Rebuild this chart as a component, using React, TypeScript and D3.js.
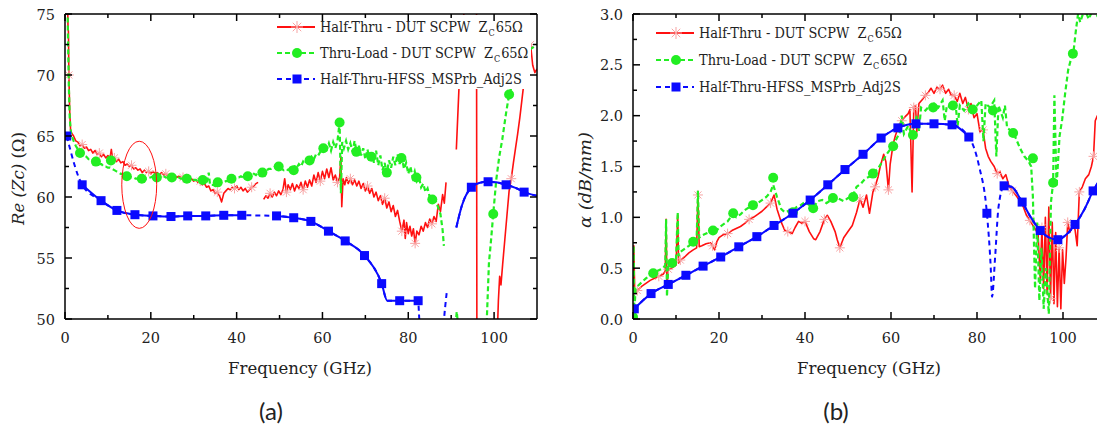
import React from "react";
import * as d3 from "d3";

type P = [number, number];

// ---------- axis ticks ----------
const freqTicks = [0, 20, 40, 60, 80, 100];
const freqMinor = [10, 30, 50, 70, 90];
const zTicks = [50, 55, 60, 65, 70, 75];
const zMinor = [52.5, 57.5, 62.5, 67.5, 72.5];
const aTicks = [0, 0.5, 1.0, 1.5, 2.0, 2.5, 3.0];
const aMinor = [0.25, 0.75, 1.25, 1.75, 2.25, 2.75];

// ---------- legend ----------
const legendMain = ["Half-Thru - DUT SCPW  Z", "Thru-Load - DUT SCPW  Z", "Half-Thru-HFSS_MSPrb_Adj2S"];
const legendSub = ["C", "C", ""];
const legendTail = ["65Ω", "65Ω", ""];

// ---------- (a) Re(Zc) ----------
const halfThruZ: P[] = [
  [0.5, 78], [0.7, 74], [0.8, 73.5], [0.9, 70], [1.1, 67], [1.3, 65.5], [1.6, 65.2], [2, 65.0], [2.5, 64.6], [3, 64.5],
  [3.5, 64.2], [4, 64.3], [4.5, 64.0], [5, 64.1], [5.5, 63.8], [6, 63.9], [6.5, 63.6], [7, 63.8], [7.5, 63.5], [8, 63.6],
  [8.5, 63.3], [9, 63.5], [9.5, 63.2], [10, 63.4], [10.5, 63.2], [10.8, 63.9], [11.1, 63.1], [11.5, 63.2], [12, 62.9], [12.5, 63.1],
  [13, 62.8], [13.5, 62.9], [14, 62.6], [14.5, 62.7], [15, 62.5], [15.5, 62.6], [16, 62.3], [16.5, 62.4], [17, 62.2], [17.5, 62.3],
  [18, 62.0], [18.5, 62.2], [19, 62.0], [19.5, 62.1], [20, 61.9], [20.5, 62.1], [21, 61.9], [21.5, 62.0], [22, 61.8], [22.5, 62.0],
  [23, 61.8], [23.5, 61.9], [24, 61.7], [24.5, 61.9], [25, 61.7], [25.5, 61.8], [26, 61.6], [26.5, 61.7], [27, 61.6], [27.5, 61.6],
  [28, 61.5], [28.5, 61.6], [29, 61.4], [29.5, 61.5], [30, 61.3], [30.5, 61.4], [31, 61.2], [31.5, 61.3], [32, 61.0], [32.5, 61.1],
  [33, 60.8], [33.5, 60.9], [34, 60.5], [34.5, 60.6], [35, 60.3], [35.5, 60.4], [36, 60.1], [36.5, 59.6], [37, 60.3], [37.5, 60.5],
  [38, 60.7], [38.5, 60.6], [39, 60.8], [39.5, 60.7], [40, 60.9], [40.5, 60.6], [41, 60.8], [41.5, 60.5], [42, 60.7], [42.5, 60.4],
  [43, 60.6], [43.5, 60.8], [44, 60.9], [44.5, 61.1], [45, 61.2], [45.5, NaN], [46.3, 59.8], [46.8, 60.1], [47.3, 59.9], [47.8, 60.3],
  [48.3, 60.0], [48.8, 60.4], [49.3, 60.1], [49.8, 60.5], [50.3, 60.2], [50.8, 60.6], [51.2, 61.5], [51.6, 60.4], [52, 61.0], [52.5, 60.6],
  [53, 61.1], [53.5, 60.5], [54, 61.0], [54.5, 60.7], [55, 61.2], [55.5, 60.6], [56, 61.3], [56.5, 60.8], [57, 61.4], [57.5, 60.9],
  [58, 61.8], [58.5, 61.2], [59, 62.0], [59.5, 61.3], [60, 62.1], [60.5, 61.5], [61, 62.3], [61.5, 61.6], [62, 62.4], [62.5, 61.4],
  [63, 61.8], [63.5, 61.2], [64, 61.6], [64.3, 63.3], [64.5, 59.2], [64.8, 61.5], [65.2, 61.0], [65.6, 61.6], [66, 61.1], [66.5, 61.5],
  [67, 61.0], [67.5, 61.4], [68, 60.9], [68.5, 61.3], [69, 60.7], [69.5, 61.1], [70, 60.5], [70.5, 60.9], [71, 60.3], [71.5, 60.7],
  [72, 60.0], [72.5, 60.4], [73, 59.7], [73.5, 60.1], [74, 59.4], [74.5, 59.9], [75, 59.1], [75.5, 59.6], [76, 58.8], [76.5, 59.3],
  [77, 58.4], [77.5, 58.9], [78, 58.0], [78.5, 57.2], [79, 58.1], [79.3, 56.6], [79.6, 57.9], [80, 57.0], [80.4, 57.6], [80.8, 56.8],
  [81.2, 57.4], [81.6, 56.2], [82, 57.2], [82.5, 56.9], [83, 57.6], [83.5, 57.2], [84, 57.9], [84.5, 57.5], [85, 58.2], [85.5, 57.8],
  [86, 58.4], [86.5, 58.0], [87, 59.4], [87.5, 58.8], [88, 60.2], [88.4, 59.5], [88.8, 61.2], [89, NaN], [91.2, 63.9], [91.8, 68.8],
  [92.5, 72.5], [93.5, 78], [95.9, 78], [96.0, 45], [96.1, NaN], [100.4, 45], [101, 51.5], [101.3, 53.5], [101.6, 52.8], [102, 54.5],
  [102.5, 56.5], [103, 58.5], [103.5, 60.5], [104, 61.5], [104.5, 62.8], [105, 64], [105.5, 65.2], [106, 66.5], [106.5, 68], [107, 69.5],
  [107.5, 71], [108.5, 72.5], [109, 70.8], [109.5, 70.2], [110, 70.5],
];

const thruLoadZ: P[] = [
  [0.5, 78], [0.7, 73], [0.9, 69], [1.1, 66.5], [1.4, 65.2], [2, 64.6], [2.5, 64.2], [3, 63.9], [3.5, 63.7], [4, 63.5],
  [4.5, 63.4], [5, 63.3], [5.5, 63.1], [6, 63.1], [6.5, 62.9], [7, 62.9], [7.5, 62.8], [8, 62.7], [8.5, 62.7], [9, 62.5],
  [9.5, 62.5], [10, 62.4], [10.5, 62.4], [11, 62.3], [11.5, 62.2], [12, 62.1], [12.5, 62.0], [13, 61.9], [13.5, 61.9], [14, 61.8],
  [14.5, 61.7], [15, 61.7], [15.5, 61.6], [16, 61.6], [16.5, 61.5], [17, 61.5], [17.5, 61.5], [18, 61.5], [18.5, 61.6], [19, 61.5],
  [19.5, 61.6], [20, 61.6], [20.5, 61.7], [21, 61.6], [21.5, 61.7], [22, 61.7], [22.5, 61.6], [23, 61.7], [23.5, 61.6], [24, 61.6],
  [24.5, 61.7], [25, 61.6], [25.5, 61.6], [26, 61.5], [26.5, 61.6], [27, 61.5], [27.5, 61.5], [28, 61.5], [28.5, 61.5], [29, 61.4],
  [29.5, 61.5], [30, 61.4], [30.5, 61.4], [31, 61.3], [31.5, 61.3], [32, 61.2], [32.5, 61.2], [33, 61.1], [33.5, 62.0], [33.8, 61.0],
  [34.5, 61.0], [35, 60.9], [35.5, 61.1], [36, 61.0], [36.5, 61.2], [37, 61.2], [37.5, 61.3], [38, 61.3], [38.5, 61.5], [39, 61.4],
  [39.5, 61.5], [40, 61.6], [40.5, 61.6], [41, 61.7], [41.5, 61.6], [42, 61.7], [42.5, 61.8], [43, 61.8], [43.5, 61.8], [44, 61.9],
  [44.5, 61.8], [45, 62.0], [45.5, 62.0], [46, 62.1], [46.5, 62.1], [47, 62.2], [47.5, 62.3], [48, 62.3], [48.5, 62.4], [49, 62.5],
  [49.5, 62.5], [50, 62.6], [50.5, 62.3], [51, 62.2], [51.5, 62.3], [52, 62.2], [52.5, 62.4], [53, 62.2], [53.5, 62.5], [54, 62.4],
  [54.5, 62.7], [55, 62.5], [55.5, 62.9], [56, 62.7], [56.5, 63.1], [57, 62.9], [57.5, 63.3], [58, 63.1], [58.5, 63.5], [59, 63.4],
  [59.5, 63.7], [60, 63.6], [60.5, 64.2], [61, 63.9], [61.5, 64.4], [62, 63.8], [62.5, 64.5], [63, 64.0], [63.5, 64.6], [64, 66.1],
  [64.3, 60.3], [64.6, 64.5], [65, 64.0], [65.5, 64.6], [66, 63.9], [66.5, 64.4], [67, 63.7], [67.5, 64.6], [68, 63.6], [68.5, 64.2],
  [69, 63.4], [69.5, 64.0], [70, 63.1], [70.5, 63.9], [71, 63.0], [71.5, 63.6], [72, 62.8], [72.5, 63.8], [73, 62.6], [73.5, 63.4],
  [74, 62.2], [74.5, 62.8], [75, 61.9], [75.5, 63.0], [76, 62.4], [76.5, 63.3], [77, 62.6], [77.5, 63.5], [78, 62.7], [78.5, 63.3],
  [79, 62.3], [79.5, 62.8], [80, 61.9], [80.5, 62.5], [81, 61.6], [81.5, 62.1], [82, 61.3], [82.5, 61.6], [83, 60.8], [83.5, 61.1],
  [84, 60.4], [84.5, 60.7], [85, 60.0], [85.5, 60.0], [86, 59.6], [86.5, 59.6], [87, 59.1], [87.5, 58.6], [88, 57.3], [88.3, 56.0],
  [88.5, NaN], [91, 49.5], [91.3, 50.6], [91.6, 49.5], [91.7, NaN], [98.2, 49], [98.8, 54.6], [99.3, 56.5], [99.8, 58.6], [100.5, 61.4],
  [101.2, 63.3], [101.9, 64.7], [102.8, 66.9], [103.5, 68.4], [104.5, 69.5], [106, 71], [108, 72], [110, 72.5],
];

const thruLoadZMarkers: P[] = [
  [3.5, 63.6], [7.2, 62.9], [10.7, 63.0], [14.4, 61.7], [17.9, 61.5], [21.4, 61.6], [24.9, 61.6], [28.4, 61.5], [32.1, 61.4],
  [35.6, 61.2], [38.8, 61.5], [42.6, 61.7], [46, 62.0], [49.8, 62.5], [53.3, 62.2], [57, 63.0], [60.2, 64.0], [64, 66.1],
  [67.9, 63.7], [71.4, 63.3], [75, 62.0], [78.4, 63.2], [81.9, 61.6], [85.6, 59.8], [99.8, 58.6], [103.5, 68.4],
];

const hfssZMarkers: P[] = [
  [0.4, 65.0], [4, 61.0], [8.4, 59.7], [12.1, 58.9], [16.3, 58.55], [20.5, 58.45], [24.7, 58.4], [28.6, 58.45], [32.8, 58.45],
  [37, 58.5], [41.2, 58.5], [49.3, 58.45], [53.3, 58.3], [57.3, 58.0], [61.4, 57.2], [65.3, 56.4], [69.8, 55.2], [73.8, 52.9],
  [78, 51.5], [82.3, 51.5], [94.7, 60.8], [98.6, 61.25], [102.8, 61.0], [107, 60.4],
];
const hfssZExtra: P[] = [
  [75.1, 51.5], [82.5, 50.4], [82.7, 49.0], [83, NaN], [88.2, 49.5], [88.6, 51.0], [89.0, 52.3], [89.5, NaN],
  [91.2, 57.5], [92.5, 59.3], [96.5, 61.15], [100.5, 61.2], [105, 60.75], [110, 60.1],
];
const hfssZSolid: P[] = [[4, 41.2], [49.3, 82.3], [91, 110]];

// ---------- (b) alpha ----------
const halfThruA: P[] = [
  [0, 0.2], [0.2, 0.72], [0.4, 0.25], [1, 0.28], [2, 0.32], [3, 0.35], [4, 0.38], [5, 0.4], [6, 0.42], [7, 0.44],
  [7.5, 0.47], [7.7, 0.98], [7.9, 0.3], [8.2, 0.49], [9, 0.5], [10, 0.53], [10.4, 1.02], [10.6, 0.55], [11, 0.58], [12, 0.61],
  [13, 0.65], [14, 0.68], [14.8, 0.7], [15.1, 1.22], [15.4, 0.71], [16, 0.72], [17, 0.74], [18, 0.75], [18.5, 0.72], [19, 0.68],
  [19.5, 0.76], [20, 0.8], [21, 0.83], [22, 0.84], [23, 0.87], [24, 0.89], [25, 0.91], [26, 0.94], [27, 0.98], [28, 1.0],
  [29, 1.03], [30, 1.06], [31, 1.1], [32, 1.14], [32.8, 1.22], [33.5, 1.08], [34.5, 0.95], [35.3, 0.87], [36, 0.86], [37, 0.84],
  [37.7, 0.9], [38.5, 0.96], [39.3, 0.94], [40, 0.96], [41, 0.86], [42, 0.79], [42.5, 0.78], [43.5, 0.86], [44.5, 0.98], [45.2, 1.02],
  [46, 0.96], [47, 0.86], [47.5, 0.78], [48.1, 0.7], [49, 0.8], [50, 0.86], [51, 0.92], [52, 1.05], [52.8, 1.18], [53.5, 1.1],
  [54.3, 1.22], [55, 1.04], [55.8, 1.25], [56.3, 1.3], [57, 1.4], [57.5, 1.5], [58.3, 1.62], [58.8, 1.55], [59.4, 1.27], [59.8, 1.52],
  [60.5, 1.72], [61, 1.8], [61.8, 1.9], [62.5, 1.95], [63.3, 1.99], [64, 2.02], [64.4, 2.06], [64.9, 1.25], [65.3, 2.08], [65.7, 2.1],
  [66, 1.84], [66.5, 2.12], [67.3, 2.16], [68, 2.2], [68.7, 2.23], [69.3, 2.27], [70, 2.22], [70.7, 2.28], [71.4, 2.26], [72, 2.3],
  [72.7, 2.22], [73.4, 2.26], [74, 2.2], [74.7, 2.2], [75.4, 2.14], [76, 2.22], [76.7, 2.12], [77.3, 2.18], [78, 2.06], [78.6, 2.12],
  [79.3, 1.98], [80, 2.02], [80.7, 1.84], [81.4, 1.86], [82, 1.68], [82.6, 1.6], [83.2, 1.55], [84, 1.5], [84.7, 1.43], [85.3, 1.45],
  [86, 1.38], [86.7, 1.42], [87.5, 1.3], [88.3, 1.26], [89, 1.22], [90, 1.16], [90.8, 1.1], [91.5, 1.02], [92.3, 0.97], [93, 0.92],
  [93.6, 0.88], [94.2, 0.84], [94.7, 0.4], [95.1, 0.9], [95.5, 0.3], [95.9, 1.0], [96.3, 0.25], [96.7, 1.1], [97.1, 0.2], [97.5, 0.95],
  [97.9, 0.15], [98.3, 0.85], [98.7, 0.12], [99.1, 0.7], [99.5, 0.1], [99.9, 0.68], [100.3, 0.35], [100.7, 0.6], [101.1, 0.95], [101.6, 0.85],
  [102.2, 0.92], [102.8, 0.88], [103.3, 0.72], [103.8, 1.25], [104.5, 1.3], [105.2, 1.38], [106, 1.42], [106.6, 1.5], [107.1, 1.6], [107.5, 1.95],
  [108, 2.0], [108.5, 1.9], [109, 2.0], [110, 2.05],
];

const thruLoadA: P[] = [
  [0, 0.02], [0.15, 0.72], [0.3, 0.05], [0.6, 0.3], [1, 0.32], [2, 0.36], [3, 0.4], [4, 0.43], [5, 0.46], [6, 0.48],
  [7, 0.5], [7.5, 0.53], [7.7, 0.98], [7.9, 0.22], [8.2, 0.54], [9, 0.55], [10, 0.58], [10.4, 1.05], [10.6, 0.62], [11, 0.66],
  [12, 0.69], [13, 0.72], [14, 0.76], [14.8, 0.78], [15.1, 1.26], [15.4, 0.8], [16, 0.82], [17, 0.84], [18, 0.86], [18.6, 0.87],
  [19, 0.84], [20, 0.9], [21, 0.93], [22, 0.96], [23, 1.02], [24, 1.0], [25, 1.03], [26, 1.07], [27, 1.1], [28, 1.12],
  [29, 1.14], [30, 1.17], [31, 1.2], [32, 1.25], [32.6, 1.32], [33.5, 1.2], [34.5, 1.08], [35.3, 1.05], [36, 1.06], [37, 1.05],
  [38, 1.1], [39, 1.12], [40, 1.15], [41, 1.12], [42, 1.1], [43, 1.16], [44, 1.17], [45, 1.14], [46, 1.17], [47, 1.2],
  [48, 1.18], [49, 1.16], [50, 1.19], [51, 1.2], [52, 1.3], [53, 1.33], [54, 1.38], [55, 1.4], [56, 1.44], [57, 1.48],
  [58, 1.55], [59, 1.62], [60, 1.68], [61, 1.75], [62, 1.83], [62.5, 2.0], [63, 1.82], [64, 1.9], [65, 1.8], [66, 2.0],
  [66.5, 1.85], [67, 2.08], [68, 2.05], [69, 2.1], [70, 2.12], [71, 2.08], [72, 2.15], [72.5, 1.95], [73, 2.1], [74, 2.08],
  [75, 2.12], [75.5, 1.9], [76, 2.1], [77, 2.05], [78, 2.12], [79, 2.06], [80, 2.1], [81, 2.15], [81.5, 1.75], [82, 2.12],
  [83, 2.08], [84, 2.15], [84.5, 1.6], [85, 2.1], [86, 1.98], [86.5, 2.1], [87, 1.88], [88, 1.85], [89, 1.78], [90, 1.68],
  [91, 1.6], [92, 1.55], [92.6, 1.5], [93, 1.2], [93.5, 0.3], [94, 0.95], [94.5, 0.18], [95, 0.7], [95.5, 0.1], [96, 0.5],
  [96.7, 0.05], [97.2, 1.15], [97.7, 1.34], [98, 2.2], [98.5, 1.3], [99.2, 1.8], [99.8, 1.96], [100.5, 2.22], [101.2, 2.45], [102, 2.58],
  [102.5, 2.65], [103, 2.84], [103.5, 3.0], [104, 2.92], [105, 3.05], [106, 2.95], [107, 3.05], [108, 2.98], [110, 3.05],
];

const thruLoadAMarkers: P[] = [
  [0, 0.02], [4.7, 0.45], [9.1, 0.55], [14, 0.76], [18.6, 0.87], [23.3, 1.04], [27.9, 1.12], [32.6, 1.39], [37.2, 1.05],
  [41.9, 1.09], [46.5, 1.19], [51.2, 1.2], [55.8, 1.43], [60.5, 1.7], [65.1, 1.81], [69.8, 2.08], [74.4, 2.1], [79, 2.06],
  [83.7, 2.05], [88.4, 1.83], [93, 1.58], [97.7, 1.34], [102.3, 2.61],
];

const hfssAMarkers: P[] = [
  [0.3, 0.1], [4.2, 0.25], [8.2, 0.34], [12.3, 0.43], [16.3, 0.52], [20.4, 0.61], [24.6, 0.71], [28.8, 0.81], [32.8, 0.92],
  [37.2, 1.04], [41.2, 1.17], [45.3, 1.32], [49.3, 1.47], [53.5, 1.62], [57.7, 1.78], [61.6, 1.88], [65.8, 1.92], [70, 1.92],
  [74.2, 1.91], [78.1, 1.79], [82.3, 1.04], [86.3, 1.31], [90.5, 1.15], [94.7, 0.87], [98.8, 0.78], [102.8, 0.93], [107, 1.26],
];
const hfssAExtra: P[] = [
  [80.5, 1.5], [83.2, 0.5], [83.5, 0.22], [84.2, 0.6], [85, 1.1], [88, 1.3], [92.5, 1.0], [96.8, 0.8], [100.8, 0.83],
  [105, 1.08], [110, 1.45],
];
const hfssASolid: P[] = [[0, 78.1], [86.3, 110]];

// ---------- annotation ----------
const ellipseA = { f: 17.3, v: 61.0, rf: 4.07, rv: 3.57 };

const RED = "#ff1010";
const GREEN = "#22ee22";
const BLUE = "#0a0aff";
const STAR = "#f7a3a3";
const SERIF = "'DejaVu Serif', serif";

const merge = (a: P[], b: P[]) => [...a, ...b].sort((p, q) => p[0] - q[0]);

const starPath = (r: number) => {
  const d = r * 0.707;
  return `M${-r},0L${r},0M0,${-r}L0,${r}M${-d},${-d}L${d},${d}M${-d},${d}L${d},${-d}`;
};

type Scale = d3.ScaleLinear<number, number>;

function Frame({ x, y, yTicks, yMinor, yFmt, clipRight }: { x: Scale; y: Scale; yTicks: number[]; yMinor: number[]; yFmt: (v: number) => string; clipRight: number }) {
  const [x0, x1] = x.range();
  const [y1, y0] = y.range();
  const xr = Math.min(x1, clipRight);
  const M = 7, m = 4;
  const ts = { fontFamily: SERIF, fontSize: 14.5 };
  return (
    <g stroke="#000" strokeWidth={1.5}>
      <line x1={x0} x2={xr} y1={y1} y2={y1} />
      <line x1={x0} x2={xr} y1={y0} y2={y0} />
      <line x1={x0} x2={x0} y1={y0} y2={y1} />
      {x1 <= clipRight && <line x1={x1} x2={x1} y1={y0} y2={y1} />}
      {freqTicks.map((t) => (
        <g key={"xt" + t}>
          <line x1={x(t)} x2={x(t)} y1={y1} y2={y1 - M} />
          <line x1={x(t)} x2={x(t)} y1={y0} y2={y0 + M} />
          <text x={x(t)} y={y1 + 24} textAnchor="middle" stroke="none" fill="#222" style={ts}>{t}</text>
        </g>
      ))}
      {freqMinor.map((t) => (
        <g key={"xm" + t}>
          <line x1={x(t)} x2={x(t)} y1={y1} y2={y1 - m} />
          <line x1={x(t)} x2={x(t)} y1={y0} y2={y0 + m} />
        </g>
      ))}
      {yTicks.map((t) => (
        <g key={"yt" + t}>
          <line x1={x0} x2={x0 + M} y1={y(t)} y2={y(t)} />
          {x1 <= clipRight && <line x1={x1} x2={x1 - M} y1={y(t)} y2={y(t)} />}
          <text x={x0 - 10} y={y(t) + 5.5} textAnchor="end" stroke="none" fill="#222" style={ts}>{yFmt(t)}</text>
        </g>
      ))}
      {yMinor.map((t) => (
        <g key={"ym" + t}>
          <line x1={x0} x2={x0 + m} y1={y(t)} y2={y(t)} />
          {x1 <= clipRight && <line x1={x1} x2={x1 - m} y1={y(t)} y2={y(t)} />}
        </g>
      ))}
    </g>
  );
}

function Series({ x, y, red, green, greenMarkers, blueMarkers, blueExtra, blueSolid, redStep, clip }: any) {
  const lin = d3.line<P>().defined((d) => !isNaN(d[1])).x((d) => x(d[0])).y((d) => y(d[1]));
  const smooth = d3.line<P>().defined((d) => !isNaN(d[1])).x((d) => x(d[0])).y((d) => y(d[1])).curve(d3.curveMonotoneX);
  const blue = merge(blueMarkers, blueExtra);
  const redMarks = (red as P[]).filter((d, i) => i % redStep === 3 && !isNaN(d[1]));
  return (
    <g clipPath={`url(#${clip})`}>
      <path d={lin(red) || ""} fill="none" stroke={RED} strokeWidth={1.6} strokeLinejoin="round" />
      {redMarks.map((d, i) => (
        <path key={"rs" + i} d={starPath(5)} transform={`translate(${x(d[0])},${y(d[1])})`} stroke={STAR} strokeWidth={1} fill="none" />
      ))}
      <path d={lin(green) || ""} fill="none" stroke={GREEN} strokeWidth={2.2} strokeDasharray="5,3" />
      {(greenMarkers as P[]).map((d, i) => (
        <circle key={"gm" + i} cx={x(d[0])} cy={y(d[1])} r={5} fill={GREEN} />
      ))}
      <path d={smooth(blue) || ""} fill="none" stroke={BLUE} strokeWidth={2} strokeDasharray="5,4" />
      {(blueSolid as P[]).map(([a, b], i) => (
        <path key={"bs" + i} d={smooth(blue.filter((d) => d[0] >= a && d[0] <= b)) || ""} fill="none" stroke={BLUE} strokeWidth={2} />
      ))}
      {(blueMarkers as P[]).map((d, i) => (
        <rect key={"bm" + i} x={x(d[0]) - 4.5} y={y(d[1]) - 4.5} width={9} height={9} fill={BLUE} />
      ))}
    </g>
  );
}

function Legend({ lx, ty, gap, box }: { lx: number; ty: number; gap: number; box: [number, number, number, number] }) {
  const styles = [
    { c: RED, dash: undefined as string | undefined },
    { c: GREEN, dash: "5,3" },
    { c: BLUE, dash: "5,4" },
  ];
  const ls = { whiteSpace: "pre" as const, fontFamily: SERIF, fontSize: 14.4, fontStretch: "condensed" };
  return (
    <g>
      <rect x={box[0]} y={box[1]} width={box[2]} height={box[3]} fill="#fff" />
      {legendMain.map((t, i) => {
        const yy = ty + i * gap;
        const mx = lx + 20;
        const tx = lx + 43;
        return (
          <g key={"lg" + i}>
            <line x1={lx} x2={lx + 38} y1={yy} y2={yy} stroke={styles[i].c} strokeWidth={2} strokeDasharray={styles[i].dash} />
            {i === 0 && <path d={starPath(6)} transform={`translate(${mx},${yy})`} stroke={STAR} strokeWidth={1} fill="none" />}
            {i === 1 && <circle cx={mx} cy={yy} r={5} fill={GREEN} />}
            {i === 2 && <rect x={mx - 4.5} y={yy - 4.5} width={9} height={9} fill={BLUE} />}
            <text x={tx} y={yy + 5} fill="#222" style={ls}>
              {t}
              {legendSub[i] && <tspan style={{ fontSize: 9 }} dx={1} dy={4}>{legendSub[i]}</tspan>}
              {legendTail[i] && <tspan dx={1} dy={-4}>{legendTail[i]}</tspan>}
            </text>
          </g>
        );
      })}
    </g>
  );
}

export default function App() {
  const W = 1097, H = 431;
  const xa = d3.scaleLinear().domain([0, 110]).range([65, 537]);
  const ya = d3.scaleLinear().domain([50, 75]).range([319, 14]);
  const xb = d3.scaleLinear().domain([0, 110]).range([633, 1106]);
  const yb = d3.scaleLinear().domain([0, 3]).range([319, 14]);
  const erx = xa(ellipseA.f + ellipseA.rf) - xa(ellipseA.f);
  const ery = ya(ellipseA.v - ellipseA.rv) - ya(ellipseA.v);
  const lab = { fontFamily: SERIF, fontSize: 16.5 };
  const sans = { fontFamily: "Lato, 'Open Sans', sans-serif", fontSize: 24 };

  return (
    <svg width={W} height={H} style={{ position: "absolute", left: 0, top: 0, background: "#fff" }}>
      <defs>
        <clipPath id="clipA"><rect x={65} y={14} width={472} height={305} /></clipPath>
        <clipPath id="clipB"><rect x={633} y={14} width={473} height={305} /></clipPath>
      </defs>
      <rect width={W} height={H} fill="#fff" />

      {/* panel (a) */}
      <Series x={xa} y={ya} red={halfThruZ} green={thruLoadZ} greenMarkers={thruLoadZMarkers}
        blueMarkers={hfssZMarkers} blueExtra={hfssZExtra} blueSolid={hfssZSolid} redStep={8} clip="clipA" />
      <ellipse cx={xa(ellipseA.f)} cy={ya(ellipseA.v)} rx={erx} ry={ery} fill="none" stroke={RED} strokeWidth={1} />
      <Legend lx={277} ty={27} gap={26} box={[268, 15, 263, 74]} />
      <Frame x={xa} y={ya} yTicks={zTicks} yMinor={zMinor} yFmt={(v) => String(v)} clipRight={W} />
      <text x={228} y={374} fill="#222" style={lab} textLength={144} lengthAdjust="spacingAndGlyphs">Frequency (GHz)</text>
      <text transform="translate(24,225) rotate(-90)" fill="#222" style={lab} textLength={93} lengthAdjust="spacingAndGlyphs">
        <tspan style={{ fontStyle: "italic" }}>Re (Zc)</tspan> (Ω)
      </text>
      <text x={271} y={420} textAnchor="middle" fill="#222" style={sans}>(a)</text>

      {/* panel (b) */}
      <Series x={xb} y={yb} red={halfThruA} green={thruLoadA} greenMarkers={thruLoadAMarkers}
        blueMarkers={hfssAMarkers} blueExtra={hfssAExtra} blueSolid={hfssASolid} redStep={5} clip="clipB" />
      <Legend lx={656} ty={33} gap={27} box={[648, 16, 270, 84]} />
      <Frame x={xb} y={yb} yTicks={aTicks} yMinor={aMinor} yFmt={(v) => v.toFixed(1)} clipRight={W} />
      <text x={797} y={374} fill="#222" style={lab} textLength={144} lengthAdjust="spacingAndGlyphs">Frequency (GHz)</text>
      <text transform="translate(591,228) rotate(-90)" fill="#222" style={{ ...lab, fontStyle: "italic" }} textLength={96} lengthAdjust="spacingAndGlyphs">
        α (dB/mm)
      </text>
      <text x={836} y={420} textAnchor="middle" fill="#222" style={sans}>(b)</text>
    </svg>
  );
}
